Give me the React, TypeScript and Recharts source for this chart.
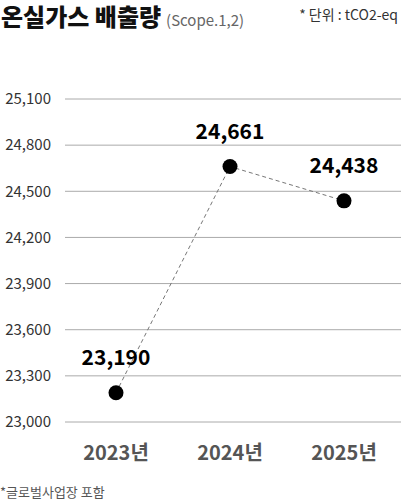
import { LineChart, Line, XAxis, YAxis, CartesianGrid, LabelList } from 'recharts'

const years = ['2023년', '2024년', '2025년']
const emissions = [23190, 24661, 24438]
const yTicks = [23000, 23300, 23600, 23900, 24200, 24500, 24800, 25100]

const data = years.map((year, i) => ({ year, value: emissions[i] }))

const FONT = '"Noto Sans CJK KR", "Noto Sans", sans-serif'

const gridLine = (p: any) => (
  <line
    key={`h-${p.y1}`}
    x1={p.x1 + 6}
    x2={p.x2}
    y1={p.y1}
    y2={p.y2}
    stroke="#aaaaaa"
    strokeWidth={1}
  />
)

export default function App() {
  return (
    <div style={{ position: 'fixed', left: 0, top: 0, width: 401, height: 502, fontFamily: FONT, background: '#fff', overflow: 'hidden' }}>
      <div style={{ position: 'absolute', left: 1, top: 2, whiteSpace: 'nowrap', lineHeight: '28px' }}>
        <span style={{ fontSize: 24, fontWeight: 800, color: '#111' }}>온실가스 배출량</span>
        <span style={{ fontSize: 15, color: '#666', marginLeft: 5 }}>(Scope.1,2)</span>
      </div>
      <div style={{ position: 'absolute', right: 3, top: 4, fontSize: 14, color: '#333', whiteSpace: 'nowrap' }}>
        * 단위 : tCO2-eq
      </div>

      <div style={{ position: 'absolute', left: 0, top: 0 }}>
        <LineChart width={401} height={470} data={data} margin={{ top: 99, right: 0, left: 0, bottom: 0 }}>
          <CartesianGrid vertical={false} horizontal={gridLine} />
          <XAxis
            dataKey="year"
            axisLine={false}
            tickLine={false}
            height={48}
            tickMargin={18}
            padding={{ left: 57, right: 57 }}
            tick={{ fill: '#555', fontSize: 20, fontWeight: 600, fontFamily: FONT }}
          />
          <YAxis
            domain={[23000, 25100]}
            ticks={yTicks}
            width={59}
            axisLine={false}
            tickLine={false}
            tickFormatter={(v: number) => v.toLocaleString('en-US')}
            tick={{ fill: '#333', fontSize: 15, fontFamily: FONT }}
          />
          <Line
            type="linear"
            dataKey="value"
            stroke="#777"
            strokeWidth={1}
            strokeDasharray="4 3"
            dot={{ r: 7.5, fill: '#000', stroke: '#000', strokeWidth: 0 }}
            activeDot={false}
            isAnimationActive={false}
          >
            <LabelList
              dataKey="value"
              position="top"
              offset={28}
              formatter={(v: any) => Number(v).toLocaleString('en-US')}
              style={{ fill: '#000', fontSize: 21, fontWeight: 700, fontFamily: FONT }}
            />
          </Line>
        </LineChart>
      </div>

      <div style={{ position: 'absolute', left: 0, top: 482, fontSize: 13, color: '#555', whiteSpace: 'nowrap' }}>
        *글로벌사업장 포함
      </div>
    </div>
  )
}
